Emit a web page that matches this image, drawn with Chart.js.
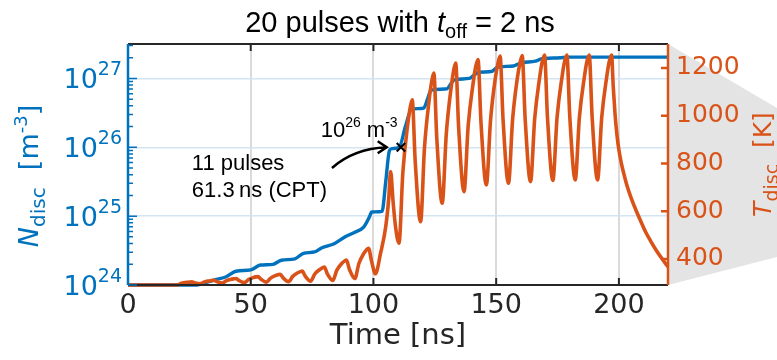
<!DOCTYPE html>
<html>
<head>
<meta charset="utf-8">
<script src="https://cdn.jsdelivr.net/npm/chart.js@4.4.1/dist/chart.umd.min.js"></script>
<style>
  html, body { margin: 0; padding: 0; background: #fff; }
</style>
</head>
<body>
<canvas id="chart" width="777" height="360"></canvas>
<script>
// axis ticks
const timeTicks = [0, 50, 100, 150, 200];
const nDecades = [24, 25, 26, 27];
const tTicks = [400, 600, 800, 1000, 1200];

// discharge density N_disc, stored as log10 of m^-3
const nTime = [0, 28, 33, 36, 40, 44, 50, 54, 59, 62.5,
  68, 71.5, 76, 79, 84, 88.5, 92, 96, 98.5, 99.2,
  103.5, 105, 106.5, 107.5, 110.5, 113, 115.5, 120.5, 122, 123.5,
  130, 131.5, 133, 139, 141, 143, 148, 150, 151.5, 157,
  159, 160.5, 166, 168, 170, 176, 179, 220];
const nLog = [24, 24, 24.05, 24.08, 24.12, 24.2, 24.22, 24.29, 24.3, 24.36,
  24.38, 24.46, 24.48, 24.54, 24.6, 24.7, 24.76, 24.84, 25.0, 25.06,
  25.07, 25.5, 25.95, 25.98, 26.0, 26.3, 26.55, 26.57, 26.7, 26.83,
  26.85, 26.92, 26.98, 27.0, 27.05, 27.09, 27.1, 27.15, 27.17, 27.18,
  27.21, 27.23, 27.25, 27.28, 27.29, 27.3, 27.31, 27.31];

// discharge temperature T_disc [K]
const tTime = [0, 20,
  21.8, 23.9, 25.1, 26, 27.2, 29.4,
  31.1, 33.0, 34.2, 35, 36.2, 38.4,
  40.1, 42.0, 43.2, 44, 45.2, 47.4,
  49.1, 51.0, 52.2, 53, 54.2, 56.4,
  58.1, 60.0, 61.2, 62, 63.2, 65.4,
  67.1, 69.0, 70.2, 71, 72.2, 74.4,
  76.1, 78.0, 79.2, 80, 81.2, 83.4,
  85.1, 87.0, 88.2, 89, 90.2, 92.4,
  94.1, 96.0, 97.2, 98, 99.2, 100.8,
  102.9, 105.0, 106.2, 107, 108.0, 109.0, 110.4,
  112.0, 113.9, 115.0, 115.8, 117.0, 119.2,
  120.8, 122.7, 123.8, 124.6, 125.8, 128.0,
  129.7, 131.6, 132.7, 133.5, 134.7, 136.9,
  138.6, 140.6, 141.7, 142.6, 143.8, 146.0,
  147.7, 149.6, 150.8, 151.6, 152.8, 155.0,
  156.7, 158.6, 159.8, 160.6, 161.8, 164.0,
  165.7, 167.7, 168.8, 169.7, 170.9, 173.1,
  174.8, 176.8, 177.9, 178.8, 180.0, 182.2,
  183.9, 185.9, 187.0, 187.9, 189.1, 191.3,
  193.0, 195.0, 196.1, 197.0,
  197.7, 198.4, 199.2, 200.0, 201.0, 202.0, 203.5, 205.0, 207.0, 209.0, 211.0, 213.0, 215.0, 217.5, 220];
const tDisc = [291, 291,
  298, 302, 303, 304, 300, 296,
  304, 308, 310, 311, 305, 299,
  309, 315, 317, 318, 310, 301,
  314, 322, 325, 326, 315, 303,
  320, 330, 334, 336, 321, 305,
  327, 341, 347, 349, 328, 307,
  337, 355, 363, 366, 338, 310,
  353, 380, 391, 395, 357, 318,
  382, 422, 439, 445, 392, 338,
  424, 535, 650, 766, 640, 535, 466,
  766, 958, 1036, 1066, 811, 556,
  867, 1066, 1147, 1178, 906, 633,
  927, 1114, 1191, 1220, 951, 682,
  959, 1135, 1207, 1235, 973, 710,
  980, 1153, 1223, 1250, 984, 717,
  985, 1156, 1225, 1252, 988, 724,
  989, 1159, 1228, 1254, 992, 729,
  992, 1160, 1228, 1254, 993, 731,
  993, 1160, 1228, 1254, 993, 731,
  993, 1160, 1228, 1254,
  1120, 1010, 920, 856, 800, 757, 700, 655, 603, 556, 511, 474, 440, 402, 367];

// point where N_disc reaches 1e26 m^-3
const cptTime = [111.2];
const cptLog = [26];

const BLUE = '#0072BD';
const ORANGE = '#D95319';
const INK = '#262626';
const SANS = 'DejaVu Sans';
const ARIAL = 'Liberation Sans';

function drawRuns(ctx, runs, x, y, align) {
  let total = 0;
  runs.forEach(r => { ctx.font = r.font; r.w = ctx.measureText(r.text).width; total += r.w; });
  let cx = align === 'center' ? x - total / 2 : align === 'right' ? x - total : x;
  runs.forEach(r => {
    ctx.font = r.font;
    ctx.fillText(r.text, cx, y + (r.dy || 0));
    cx += r.w;
  });
}

const figureDecor = {
  id: 'figureDecor',
  beforeDraw(chart) {
    const { ctx, chartArea: a, width } = chart;
    ctx.save();
    ctx.fillStyle = '#e4e4e4';
    ctx.beginPath();
    ctx.moveTo(a.right, a.top);
    ctx.lineTo(width, a.top + 64);
    ctx.lineTo(width, a.bottom - 28);
    ctx.lineTo(a.right, a.bottom);
    ctx.closePath();
    ctx.fill();
    ctx.restore();
  },
  afterDatasetsDraw(chart) {
    const { ctx, chartArea: a } = chart;
    const xs = chart.scales.x, ys = chart.scales.y, ts = chart.scales.y1;
    ctx.save();
    ctx.lineCap = 'butt';

    // box: black top and bottom, coloured y axes
    ctx.strokeStyle = INK;
    ctx.lineWidth = 2;
    ctx.beginPath();
    ctx.moveTo(a.left, a.top); ctx.lineTo(a.right, a.top);
    ctx.moveTo(a.left, a.bottom); ctx.lineTo(a.right, a.bottom);
    timeTicks.forEach(v => {
      const px = xs.getPixelForValue(v);
      ctx.moveTo(px, a.bottom); ctx.lineTo(px, a.bottom - 7);
      ctx.moveTo(px, a.top); ctx.lineTo(px, a.top + 7);
    });
    ctx.stroke();

    ctx.strokeStyle = BLUE;
    ctx.lineWidth = 2.5;
    ctx.beginPath();
    ctx.moveTo(a.left, a.top); ctx.lineTo(a.left, a.bottom);
    ctx.stroke();
    ctx.lineWidth = 1.5;
    ctx.beginPath();
    nDecades.forEach(e => {
      for (let m = 1; m < 10; m++) {
        const v = m * Math.pow(10, e);
        if (v > ys.max) break;
        const py = ys.getPixelForValue(v);
        ctx.moveTo(a.left, py); ctx.lineTo(a.left + (m === 1 ? 9 : 5), py);
      }
    });
    ctx.stroke();

    ctx.strokeStyle = ORANGE;
    ctx.lineWidth = 2.5;
    ctx.beginPath();
    ctx.moveTo(a.right, a.top); ctx.lineTo(a.right, a.bottom);
    tTicks.forEach(v => {
      const py = ts.getPixelForValue(v);
      ctx.moveTo(a.right, py); ctx.lineTo(a.right - 7, py);
    });
    ctx.stroke();

    // decade labels 10^n
    ctx.fillStyle = BLUE;
    ctx.textBaseline = 'alphabetic';
    ctx.textAlign = 'left';
    nDecades.forEach(e => {
      const py = ys.getPixelForValue(Math.pow(10, e));
      drawRuns(ctx, [
        { text: '10', font: `27px ${SANS}` },
        { text: String(e), font: `19px ${SANS}`, dy: -13 }
      ], a.left - 6, py + 10, 'right');
    });

    // axis titles
    ctx.save();
    ctx.translate(38, 176);
    ctx.rotate(-Math.PI / 2);
    drawRuns(ctx, [
      { text: 'N', font: `italic 27px ${SANS}` },
      { text: 'disc', font: `20px ${SANS}`, dy: 7 },
      { text: '  [m', font: `27px ${SANS}` },
      { text: '-3', font: `18px ${SANS}`, dy: -11 },
      { text: ']', font: `27px ${SANS}` }
    ], 0, 0, 'center');
    ctx.restore();

    ctx.save();
    ctx.fillStyle = ORANGE;
    ctx.translate(771, a.top + (a.bottom - a.top) / 2);
    ctx.rotate(-Math.PI / 2);
    drawRuns(ctx, [
      { text: 'T', font: `italic 25px ${SANS}` },
      { text: 'disc', font: `19px ${SANS}`, dy: 7 },
      { text: '  [K]', font: `25px ${SANS}` }
    ], 0, 0, 'center');
    ctx.restore();

    // title
    ctx.fillStyle = '#000';
    drawRuns(ctx, [
      { text: '20 pulses with ', font: `29px ${ARIAL}` },
      { text: 't', font: `italic 29px ${ARIAL}` },
      { text: 'off', font: `20px ${ARIAL}`, dy: 6 },
      { text: ' = 2 ns', font: `29px ${ARIAL}` }
    ], (a.left + a.right) / 2 + 2, 32, 'center');

    // annotation near 1e26 m^-3
    const lx = xs.getPixelForValue(26);
    ctx.font = `22px ${ARIAL}`;
    ctx.fillText('11 pulses', lx, ys.getPixelForValue(Math.pow(10, 25.67)));
    ctx.fillText('61.3\u2009ns (CPT)', lx, ys.getPixelForValue(Math.pow(10, 25.28)));
    drawRuns(ctx, [
      { text: '10', font: `22px ${ARIAL}` },
      { text: '26', font: `14px ${ARIAL}`, dy: -10 },
      { text: ' m', font: `22px ${ARIAL}` },
      { text: '-3', font: `14px ${ARIAL}`, dy: -10 }
    ], xs.getPixelForValue(78.5), ys.getPixelForValue(Math.pow(10, 26.15)), 'left');

    const x0 = xs.getPixelForValue(83.1), y0 = ys.getPixelForValue(Math.pow(10, 25.7));
    const xc = xs.getPixelForValue(92), yc = ys.getPixelForValue(Math.pow(10, 25.98));
    const x1 = xs.getPixelForValue(105.4), y1 = ys.getPixelForValue(1e26);
    ctx.strokeStyle = '#000';
    ctx.lineWidth = 2.5;
    ctx.beginPath();
    ctx.moveTo(x0, y0);
    ctx.quadraticCurveTo(xc, yc, x1, y1);
    ctx.moveTo(x1 - 9, y1 - 6); ctx.lineTo(x1, y1); ctx.lineTo(x1 - 9, y1 + 6);
    ctx.stroke();

    ctx.restore();
  }
};

new Chart(document.getElementById('chart'), {
  type: 'line',
  data: {
    datasets: [
      {
        label: 'CPT',
        type: 'scatter',
        data: cptTime.map((t, i) => ({ x: t, y: Math.pow(10, cptLog[i]) })),
        yAxisID: 'y',
        pointStyle: 'crossRot',
        pointRadius: 6,
        borderColor: '#000',
        borderWidth: 2,
        order: 0
      },
      {
        label: 'T_disc',
        data: tTime.map((t, i) => ({ x: t, y: tDisc[i] })),
        yAxisID: 'y1',
        borderColor: ORANGE,
        borderWidth: 3.6,
        pointRadius: 0,
        cubicInterpolationMode: 'monotone',
        clip: 4,
        order: 1
      },
      {
        label: 'N_disc',
        data: nTime.map((t, i) => ({ x: t, y: Math.pow(10, nLog[i]) })),
        yAxisID: 'y',
        borderColor: BLUE,
        borderWidth: 3.4,
        pointRadius: 0,
        cubicInterpolationMode: 'monotone',
        clip: 4,
        order: 2
      }
    ]
  },
  options: {
    responsive: false,
    animation: false,
    devicePixelRatio: 1,
    layout: { padding: { top: 44, left: 0, right: 0, bottom: 0 } },
    plugins: { legend: { display: false }, tooltip: { enabled: false } },
    scales: {
      x: {
        type: 'linear',
        position: 'bottom',
        min: 0,
        max: 220,
        afterBuildTicks: s => { s.ticks = timeTicks.map(v => ({ value: v })); },
        afterFit: s => { s.height = 75; },
        border: { display: false },
        grid: {
          drawTicks: false,
          lineWidth: 2,
          color: c => (c.tick && c.tick.value > 0) ? '#dadada' : 'rgba(0,0,0,0)'
        },
        ticks: { color: INK, font: { family: SANS, size: 27 }, padding: 5, maxRotation: 0 },
        title: { display: true, text: 'Time [ns]', color: INK, font: { family: SANS, size: 29 }, padding: { top: 0, bottom: 6 } }
      },
      y: {
        type: 'logarithmic',
        position: 'left',
        min: 1e24,
        max: Math.pow(10, 27.5),
        afterBuildTicks: s => { s.ticks = nDecades.map(e => ({ value: Math.pow(10, e) })); },
        afterFit: s => { s.width = 128; },
        border: { display: false },
        grid: {
          drawTicks: false,
          lineWidth: 1.5,
          color: c => (c.tick && c.tick.value > 1e24) ? '#d3e4f2' : 'rgba(0,0,0,0)'
        },
        ticks: { display: false }
      },
      y1: {
        type: 'linear',
        position: 'right',
        min: 291,
        max: 1300,
        afterBuildTicks: s => { s.ticks = tTicks.map(v => ({ value: v })); },
        afterFit: s => { s.width = 109; },
        border: { display: false },
        grid: { display: false, drawTicks: false },
        ticks: { color: ORANGE, font: { family: SANS, size: 25 }, padding: 8, callback: v => String(v) }
      }
    }
  },
  plugins: [figureDecor]
});
</script>
</body>
</html>
